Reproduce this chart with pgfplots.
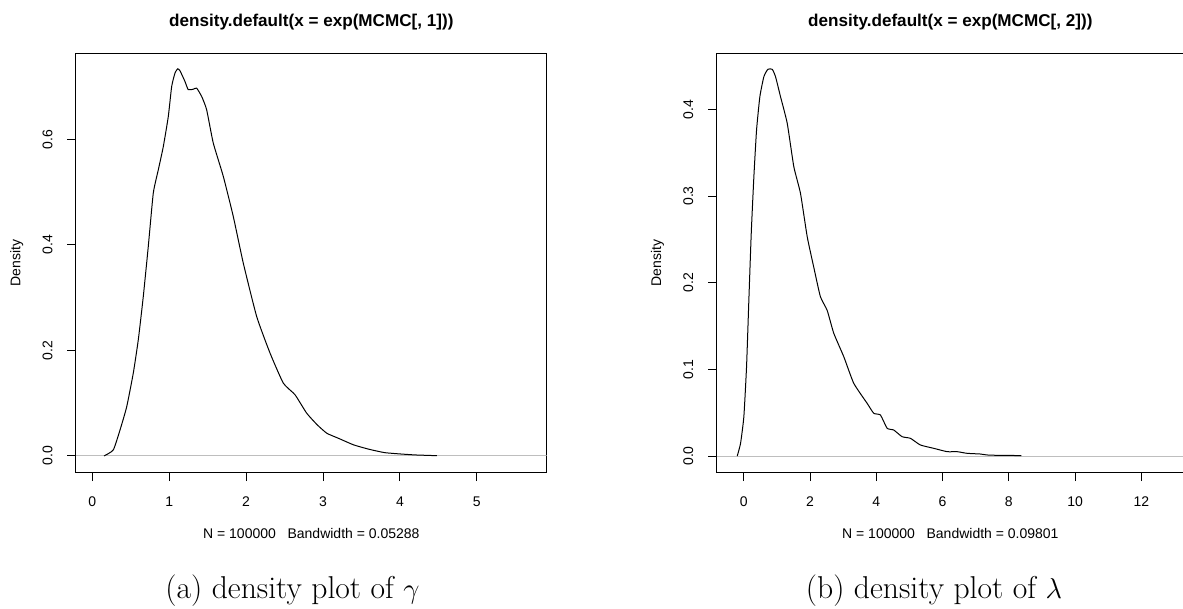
\documentclass[border=0pt]{standalone}
\usepackage{fontspec}
\usepackage{pgfplots}
\pgfplotsset{compat=1.18}
\newfontfamily\arial{Liberation Sans}
\definecolor{rgray}{HTML}{BEBEBE}

% R base-graphics look: box, outward ticks, rotated y labels
\pgfplotsset{
  rplot/.style={
    scale only axis, axis line style={black, line width=0.5pt},
    tick pos=left, tick align=outside, major tick length=4.35pt,
    every tick/.style={black, line width=0.5pt},
    tick label style={font=\arial\fontsize{7}{8}\selectfont},
    /pgf/number format/assume math mode=true,
    xticklabel shift=4.2pt,
    y tick label style={rotate=90, anchor=south, /pgf/number format/.cd, fixed, fixed zerofill, precision=1},
    yticklabel shift=3.8pt,
    every axis x label/.style={at={(axis description cs:0.5,0)}, anchor=center, yshift=-30.35pt, font=\arial\fontsize{7}{8}\selectfont},
    every axis y label/.style={at={(axis description cs:0,0.5)}, anchor=center, rotate=90, yshift=29.65pt, font=\arial\fontsize{7}{8}\selectfont},
    every axis title/.style={at={(axis description cs:0.5,1)}, anchor=base, yshift=13.3pt, font=\arial\bfseries\fontsize{8.55}{10}\selectfont},
    ylabel={Density},
  }
}

\begin{document}
\begin{tikzpicture}

\begin{axis}[rplot, anchor=south west, at={(38pt,-236.15pt)},
  width=235.35pt, height=209.5pt,
  xmin=-0.212, xmax=5.909, ymin=-0.031, ymax=0.763,
  xtick={0,1,2,3,4,5}, ytick={0,0.2,0.4,0.6},
  title={density.default(x = exp(MCMC[, 1]))},
  xlabel={N = 100000\ \ \ Bandwidth = 0.05288}]
\addplot[rgray, line width=0.5pt, forget plot] coordinates {(-0.212,0) (5.909,0)};
\addplot[black, line width=0.5pt, smooth, tension=0.3] coordinates {
(0.152,0.0) (0.273,0.0114) (0.36,0.049) (0.447,0.093) (0.533,0.157) (0.598,0.220)
(0.663,0.302) (0.728,0.397) (0.793,0.498) (0.858,0.542) (0.923,0.586) (0.988,0.643)
(1.032,0.700) (1.075,0.7255) (1.110,0.7336) (1.140,0.730) (1.205,0.7096) (1.248,0.694)
(1.313,0.695) (1.357,0.697) (1.423,0.681) (1.487,0.656) (1.573,0.593) (1.703,0.530)
(1.833,0.454) (1.964,0.365) (2.138,0.264) (2.311,0.195) (2.484,0.138) (2.636,0.116)
(2.788,0.081) (2.926,0.0588) (3.05,0.043) (3.20,0.0335) (3.40,0.0209) (3.60,0.0126)
(3.80,0.0063) (4.0,0.0038) (4.2,0.0019) (4.48,0.0005)};
\end{axis}

\begin{axis}[rplot, anchor=south west, at={(358.35pt,-236.15pt)},
  width=233.65pt, height=209.5pt,
  xmin=-0.82, xmax=13.29, ymin=-0.0188, ymax=0.4647,
  xtick={0,2,4,6,8,10,12}, ytick={0,0.1,0.2,0.3,0.4},
  title={density.default(x = exp(MCMC[, 2]))},
  xlabel={N = 100000\ \ \ Bandwidth = 0.09801}]
\addplot[rgray, line width=0.5pt, forget plot] coordinates {(-0.82,0) (13.29,0)};
\addplot[black, line width=0.5pt, smooth, tension=0.3] coordinates {
(-0.2,0.0) (-0.1,0.0146) (0.0,0.0454) (0.081,0.103) (0.151,0.180) (0.223,0.257)
(0.302,0.322) (0.383,0.376) (0.483,0.4146) (0.604,0.4377) (0.724,0.4462) (0.857,0.4462)
(0.956,0.4377) (1.107,0.4146) (1.309,0.384) (1.508,0.334) (1.71,0.303) (1.913,0.253)
(2.11,0.218) (2.31,0.184) (2.516,0.168) (2.715,0.1416) (3.017,0.1146) (3.318,0.0839)
(3.722,0.0608) (3.922,0.0493) (4.124,0.0473) (4.326,0.0320) (4.525,0.0300) (4.778,0.0223)
(5.03,0.0204) (5.33,0.0127) (5.73,0.0089) (6.14,0.005) (6.44,0.005) (6.74,0.0031)
(7.14,0.0023) (7.4,0.001) (8.38,0.0005)};
\end{axis}

\node[anchor=base, font=\fontsize{15.8}{18}\selectfont] at (146.25pt,-299.15pt) {(a) density plot of $\gamma$};
\node[anchor=base, font=\fontsize{15.8}{18}\selectfont] at (467pt,-299.15pt) {(b) density plot of $\lambda$};

\pgfresetboundingbox
\useasboundingbox (0,0) rectangle (591.5pt,-304.5pt);
\end{tikzpicture}
\end{document}
